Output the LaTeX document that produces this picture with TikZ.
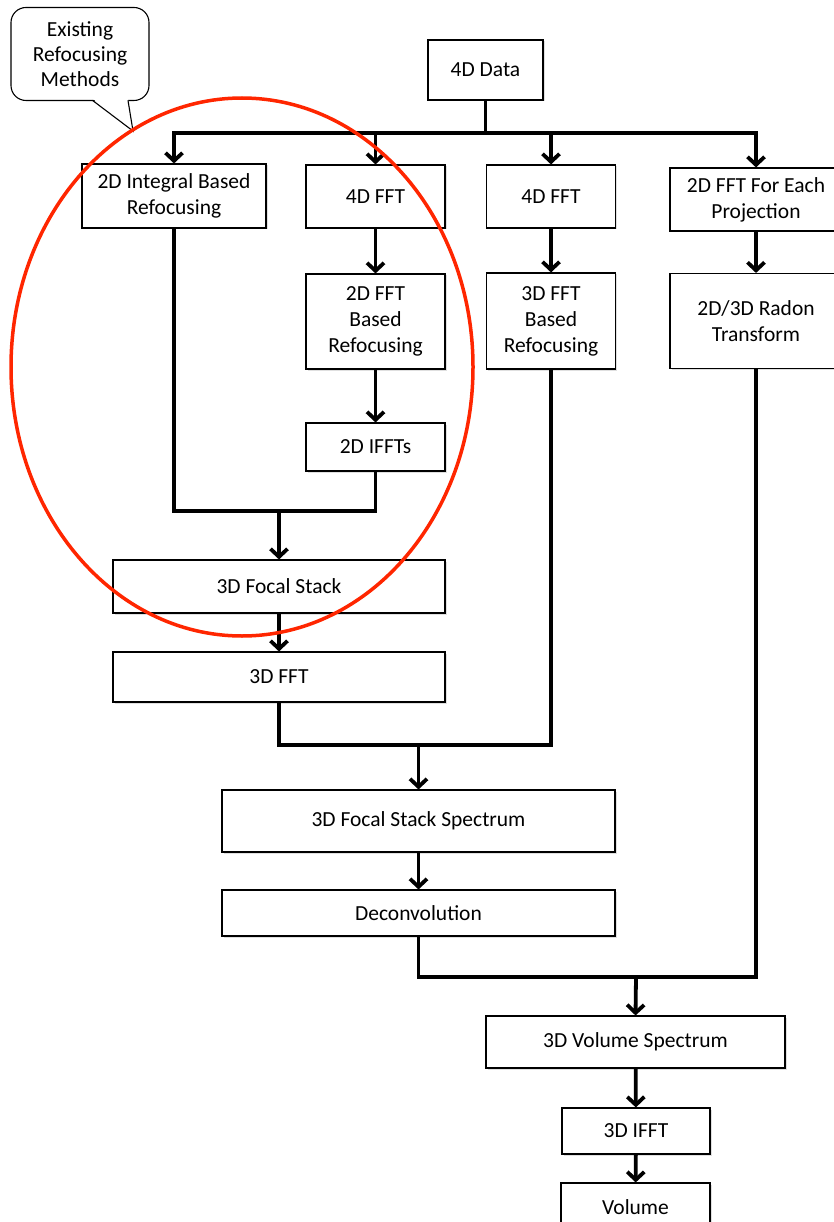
\documentclass[tikz,border=0pt]{standalone}
\usepackage{fontspec}
\setmainfont{Carlito}
\usetikzlibrary{arrows.meta,shadows}
\definecolor{ringred}{RGB}{255,38,0}
\begin{document}
\begin{tikzpicture}[x=1pt,y=-1pt,
  box/.style={draw=black, line width=1.1pt, fill=white, align=center, inner sep=0pt,
    font=\fontsize{21.5}{26}\selectfont,
    drop shadow={shadow xshift=1.5pt,shadow yshift=-1.5pt,opacity=0.25}},
  conn/.style={line width=3.8pt, line join=miter},
  arr/.style={conn, -{Straight Barb[length=8pt,width=17pt]}},
]
\useasboundingbox (0,0) rectangle (834,1222);
\clip (0,0) rectangle (834,1222);

% boxes
\node[box, minimum width=115, minimum height=60] (data) at (485.5,70) {4D Data};
\node[box, minimum width=184, minimum height=64] (integ) at (174,196) {2D Integral Based\\Refocusing};
\node[box, minimum width=139, minimum height=63] (fftA) at (375.5,196.5) {4D FFT};
\node[box, minimum width=129, minimum height=63] (fftB) at (551,196.5) {4D FFT};
\node[box, minimum width=172, minimum height=63] (proj) at (756,199.5) {2D FFT For Each\\Projection};
\node[box, minimum width=139, minimum height=95] (fft2d) at (375.5,321.5) {2D FFT\\Based\\Refocusing};
\node[box, minimum width=129, minimum height=96] (fft3d) at (551,321) {3D FFT\\Based\\Refocusing};
\node[box, minimum width=172, minimum height=95] (radon) at (756,321) {2D/3D Radon\\Transform};
\node[box, minimum width=139, minimum height=48] (ifft2d) at (375.5,447) {2D IFFTs};
\node[box, minimum width=332, minimum height=53] (stack) at (279,586.5) {3D Focal Stack};
\node[box, minimum width=332, minimum height=50] (fft3) at (279,677) {3D FFT};
\node[box, minimum width=393, minimum height=62] (fss) at (418.5,821) {3D Focal Stack Spectrum};
\node[box, minimum width=393, minimum height=46] (deconv) at (418.5,913) {Deconvolution};
\node[box, minimum width=299, minimum height=52] (volspec) at (635.5,1042) {3D Volume Spectrum};
\node[box, minimum width=148, minimum height=46] (ifft3) at (636,1131) {3D IFFT};
\node[box, minimum width=149, minimum height=48] (vol) at (635.5,1207) {Volume};

% junction points
\coordinate (bus) at (485.5,133);
\coordinate (m1) at (279,511);
\coordinate (m2) at (418.5,745);
\coordinate (m3) at (636,977);

% connectors
\draw[arr] (data.south) -- (bus) -| (integ.north);
\draw[arr] (bus) -| (fftA.north);
\draw[arr] (bus) -| (fftB.north);
\draw[arr] (bus) -| (proj.north);
\draw[arr] (fftA) -- (fft2d);
\draw[arr] (fft2d) -- (ifft2d);
\draw[arr] (fftB) -- (fft3d);
\draw[arr] (proj) -- (radon);
\draw[conn] (integ.south) |- (m1) -| (ifft2d.south);
\draw[arr] (m1) -- (stack.north);
\draw[arr] (stack) -- (fft3);
\draw[conn] (fft3.south) |- (m2) -| (fft3d.south);
\draw[arr] (m2) -- (fss.north);
\draw[arr] (fss) -- (deconv);
\draw[conn] (deconv.south) |- (m3) -| (radon.south);
\draw[arr] (m3) -- (volspec.north);
\draw[arr] (volspec) -- (ifft3);
\draw[arr] (ifft3) -- (vol);

% callout
\node[draw=black, line width=1.1pt, fill=white, rounded corners=15pt, align=center,
  inner sep=0pt, minimum width=138, minimum height=93,
  font=\fontsize{21.5}{25}\selectfont] (callout) at (80,54) {Existing\\Refocusing\\Methods};
\coordinate (tip) at (133,131);
\fill[white] (93,99) -- (tip) -- (128,99) -- cycle;
\draw[white, line width=2pt] (94.5,100) -- (126.5,100);
\draw[line width=1.1pt] (92.5,100.4) -- (tip) -- (128,100.4);

% ellipse
\draw[ringred, line width=3.5pt] (242,367) ellipse [x radius=231, y radius=269];
\end{tikzpicture}
\end{document}
